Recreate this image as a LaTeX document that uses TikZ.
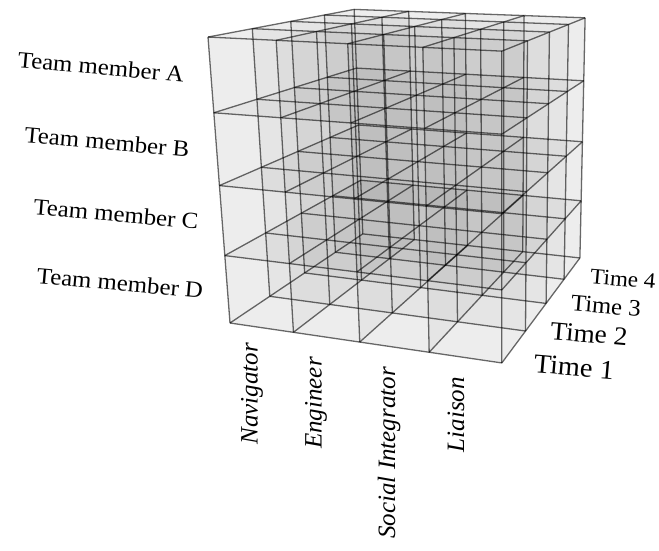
\documentclass[tikz,border=0pt]{standalone}
\usepackage{fontspec}
\setmainfont{Liberation Serif}
\begin{document}
\begin{tikzpicture}[x=1pt,y=-1pt,
  gl/.style={draw=black, draw opacity=0.58, line width=1.3pt},
  pl/.style={fill=black, fill opacity=0.035},
  tm/.style={font=\fontsize{23}{27}\selectfont, inner sep=0pt, rotate=-5, xscale=1.08},
  tt/.style={inner sep=0pt, rotate=-5, xscale=1.05},
  rl/.style={font=\fontsize{25}{29}\selectfont\itshape, inner sep=0pt, rotate=90, anchor=east}]
\useasboundingbox (0,0) rectangle (659,551);
% perspective grid points p<i><j><k>: i = role, j = team member, k = time
\foreach \i in {0,...,4}{\foreach \j in {0,...,4}{\foreach \k in {0,...,4}{
  \pgfmathsetmacro\dn{1+(\i*(-0.0863)+\j*(-0.0748)+\k*0.283)/4}
  \pgfmathsetmacro\px{(230+(\i*228.52+\j*(-37.55)+\k*235.46)/4)/\dn}
  \pgfmathsetmacro\py{(323+(\i*8.63+\j*(-288.73)+\k*(-22.92))/4)/\dn}
  \coordinate (p\i\j\k) at (\px,\py);
}}}
% translucent planes
\foreach \n in {0,...,4}{
  \fill[pl] (p00\n) -- (p40\n) -- (p44\n) -- (p04\n) -- cycle;
  \fill[pl] (p\n00) -- (p\n40) -- (p\n44) -- (p\n04) -- cycle;
  \fill[pl] (p0\n0) -- (p4\n0) -- (p4\n4) -- (p0\n4) -- cycle;
}
% grid lines
\foreach \i in {0,...,4}{\foreach \j in {0,...,4}{
  \draw[gl] (p\i\j0) -- (p\i\j4);
  \draw[gl] (p\i0\j) -- (p\i4\j);
  \draw[gl] (p0\i\j) -- (p4\i\j);
}}
% team member labels
\node[tm] (ta) at (101,67) {Team member A};
\node[tm] (tb) at (107,142) {Team member B};
\node[tm] (tc) at (116,214) {Team member C};
\node[tm] (td) at (120,283) {Team member D};
% time labels
\node[tt, font=\fontsize{22}{26}\selectfont] (t4) at (623,279) {Time 4};
\node[tt, font=\fontsize{23.5}{28}\selectfont] (t3) at (606,306) {Time 3};
\node[tt, font=\fontsize{26}{30}\selectfont] (t2) at (589,334) {Time 2};
\node[tt, font=\fontsize{27}{31}\selectfont] (t1) at (574,367) {Time 1};
% role labels
\node[rl] (r1) at (252,343) {Navigator};
\node[rl] (r2) at (316,357) {Engineer};
\node[rl] (r3) at (389,367) {Social Integrator};
\node[rl] (r4) at (456,377) {Liaison};
\end{tikzpicture}
\end{document}
